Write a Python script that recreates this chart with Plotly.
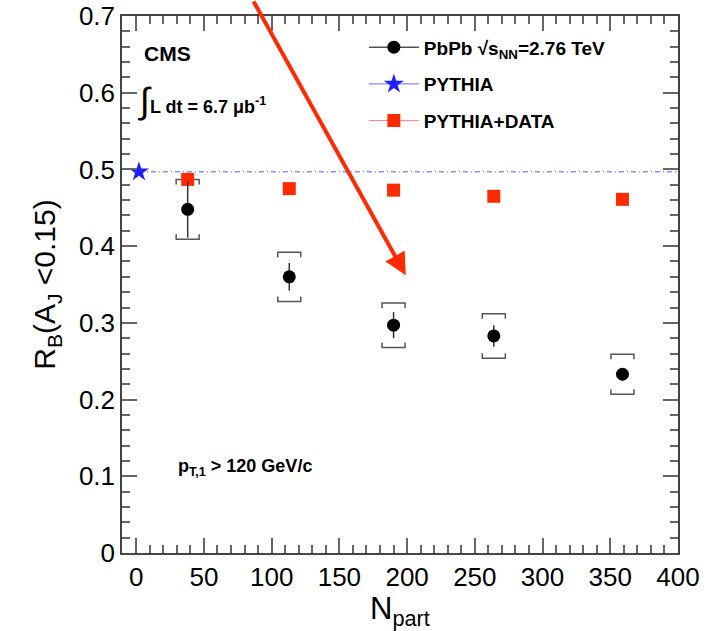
import plotly.graph_objects as go

# ---- data ----
npart = [38, 113, 190, 264, 359]
rb_pbpb = [0.448, 0.360, 0.297, 0.283, 0.233]
stat_err = [0.037, 0.018, 0.017, 0.014, 0.008]
sys_err = [0.039, 0.032, 0.029, 0.029, 0.026]

rb_pythia_data = [0.487, 0.475, 0.473, 0.465, 0.461]

pythia_x = [2]
pythia_y = [0.497]

x_range = [-10.5, 400]
y_range = [0, 0.7]

FONT = "Liberation Sans"
RED = "#ff2a00"
BLUE = "#1f1fff"

fig = go.Figure()

# systematic brackets built from the data
bw = 8.5      # half-width in x units
bd = 0.0065   # bracket tip length in y units
bx, by = [], []
for x, y, s in zip(npart, rb_pbpb, sys_err):
    top, bot = y + s, y - s
    bx += [x - bw, x - bw, x + bw, x + bw, None]
    by += [top - bd, top, top, top - bd, None]
    bx += [x - bw, x - bw, x + bw, x + bw, None]
    by += [bot + bd, bot, bot, bot + bd, None]
fig.add_trace(go.Scatter(x=bx, y=by, mode="lines",
                         line=dict(color="#555555", width=1.5),
                         showlegend=False, hoverinfo="skip"))

# PYTHIA reference line
fig.add_trace(go.Scatter(x=[pythia_x[0], x_range[1]], y=[pythia_y[0], pythia_y[0]],
                         mode="lines",
                         line=dict(color="#8c8cff", width=1.5, dash="5px,3px,1px,3px"),
                         showlegend=False, hoverinfo="skip"))

# PYTHIA+DATA
fig.add_trace(go.Scatter(x=npart, y=rb_pythia_data, mode="markers",
                         marker=dict(symbol="square", size=13, color=RED),
                         showlegend=False))

# PbPb data
fig.add_trace(go.Scatter(x=npart, y=rb_pbpb, mode="markers",
                         marker=dict(symbol="circle", size=13, color="black"),
                         error_y=dict(type="data", array=stat_err, width=0,
                                      thickness=1.5, color="#333333"),
                         showlegend=False))

# PYTHIA star
fig.add_trace(go.Scatter(x=pythia_x, y=pythia_y, mode="markers",
                         marker=dict(symbol="star", size=15, color=BLUE),
                         showlegend=False))

# legend proxies
fig.add_trace(go.Scatter(x=[None], y=[None], mode="lines+markers",
                         name="<b>PbPb √s<sub>NN</sub>=2.76 TeV</b>",
                         line=dict(color="black", width=1),
                         marker=dict(symbol="circle", size=13, color="black"),
                         legendgroup="a"))
fig.add_trace(go.Scatter(x=[None], y=[None], mode="lines+markers",
                         name="<b>PYTHIA</b>",
                         line=dict(color="#6a6aff", width=1),
                         marker=dict(symbol="star", size=15, color=BLUE),
                         legendgroup="b"))
fig.add_trace(go.Scatter(x=[None], y=[None], mode="lines+markers",
                         name="<b>PYTHIA+DATA</b>",
                         line=dict(color="#ff8080", width=1),
                         marker=dict(symbol="square", size=13, color=RED),
                         legendgroup="c"))

# invisible trace that activates the top/right tick axes
fig.add_trace(go.Scatter(x=[None], y=[None], xaxis="x2", yaxis="y2",
                         showlegend=False, hoverinfo="skip"))

axis_common = dict(
    showgrid=False, zeroline=False, showline=True, linecolor="#444444", linewidth=1.5,
    ticks="inside", ticklen=15, tickwidth=1.5, tickcolor="#666666",
    tickfont=dict(family=FONT, size=26, color="black"),
)
xminor = dict(dtick=10, ticks="inside", ticklen=8, tickcolor="#666666", tickwidth=1.5)
yminor = dict(dtick=0.02, ticks="inside", ticklen=8, tickcolor="#666666", tickwidth=1.5)

fig.update_layout(
    width=718, height=631,
    margin=dict(l=122, r=40, t=16, b=78, autoexpand=False),
    paper_bgcolor="white", plot_bgcolor="white",
    font=dict(family=FONT, color="black"),
    xaxis=dict(range=x_range, dtick=50, tick0=0, minor=xminor, mirror=True,
               title=dict(text="N<sub>part</sub>", font=dict(family=FONT, size=31), standoff=6),
               **axis_common),
    yaxis=dict(range=y_range, dtick=0.1, tick0=0, minor=yminor, mirror=True,
               title=dict(text="R<sub>B</sub>(A<sub>J</sub> <0.15)", font=dict(family=FONT, size=30), standoff=14),
               **axis_common),
    xaxis2=dict(range=x_range, dtick=50, tick0=0, minor=xminor, overlaying="x", side="top",
                anchor="y2", showticklabels=False, **axis_common),
    yaxis2=dict(range=y_range, dtick=0.1, tick0=0, minor=yminor, overlaying="y", side="right",
                anchor="x2", showticklabels=False, **axis_common),
    legend=dict(x=0.435, y=0.977, xanchor="left", yanchor="top",
                font=dict(family=FONT, size=19, color="black"),
                bgcolor="rgba(0,0,0,0)", tracegroupgap=9, itemwidth=50),
    showlegend=True,
)

fig.add_annotation(x=0.036, y=0.93, xref="paper", yref="paper", xanchor="left", yanchor="middle",
                   text="<b>CMS</b>", showarrow=False, font=dict(family=FONT, size=21))
fig.add_annotation(x=0.025, y=0.843, xref="paper", yref="paper", xanchor="left", yanchor="middle",
                   text="<span style='font-size:36px'>∫</span><b>L dt = 6.7 μb<sup>-1</sup></b>",
                   showarrow=False, font=dict(family=FONT, size=18))
fig.add_annotation(x=0.098, y=0.159, xref="paper", yref="paper", xanchor="left", yanchor="middle",
                   text="<b>p<sub>T,1</sub> > 120 GeV/c</b>", showarrow=False,
                   font=dict(family=FONT, size=18))

# red arrow
fig.add_annotation(x=199, y=0.362, xref="x", yref="y", ax=-153, ay=-285,
                   showarrow=True, arrowhead=2, arrowsize=1.1, arrowwidth=4,
                   arrowcolor=RED, text="", standoff=0)

fig.write_html("out.html")
